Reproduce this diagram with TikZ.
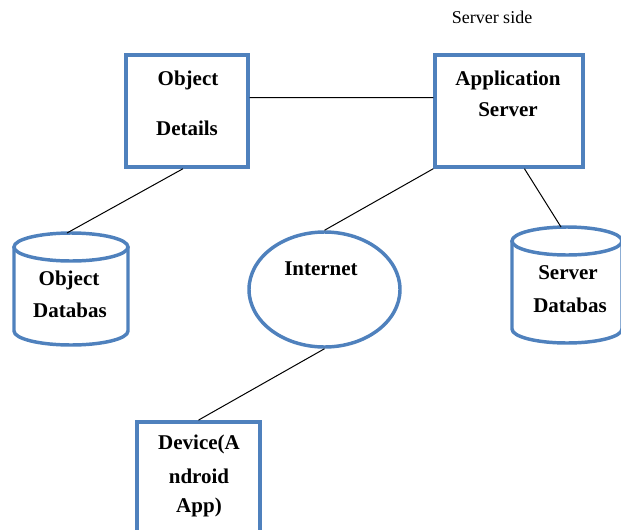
\documentclass[tikz,border=0pt]{standalone}
\usepackage{fontspec}
\setmainfont{Liberation Serif}
\usetikzlibrary{shapes.geometric}
\definecolor{shapeblue}{RGB}{79,129,189}
\tikzset{every picture/.style={line width=0.75pt}}

\begin{document}
\begin{tikzpicture}[x=0.75pt,y=0.75pt,yscale=-1,xscale=1,
	bluebox/.style={draw=shapeblue, line width=2.6pt, inner sep=0pt},
	blueline/.style={draw=shapeblue, line width=2.6pt},
	boldtext/.style={inner sep=0.75pt, font=\fontsize{15.75}{18}\selectfont\bfseries},
	plaintext/.style={inner sep=0.75pt, font=\fontsize{13.5}{16}\selectfont}]
	\useasboundingbox (0,0) rectangle (621,529);
	\clip (0,0) rectangle (621,529);

	%Shape: Rectangle [Object Details]
	\node [bluebox, minimum width=91.5pt, minimum height=84pt] (objdet) at (187,111) {};
	%Shape: Rectangle [Application Server]
	\node [bluebox, minimum width=111pt, minimum height=84pt] (appsrv) at (509,111) {};
	%Shape: Ellipse [Internet]
	\node [bluebox, ellipse, minimum width=113.25pt, minimum height=86.25pt] (inet) at (324.5,289.5) {};
	%Shape: Rectangle [Device]
	\node [bluebox, minimum width=92.25pt, minimum height=85pt] (device) at (198.5,478.5) {};

	%Shape: Can [Object Databas]
	\draw [blueline] (14,247) -- (14,331) arc[start angle=180, end angle=0, x radius=57, y radius=14] -- (128,247) ;
	\draw [blueline] (71,247) ellipse [x radius=57, y radius=14] ;
	\coordinate (objdbtop) at (67,233) ;
	%Shape: Can [Server Databas]
	\draw [blueline] (512,241) -- (512,329) arc[start angle=180, end angle=0, x radius=55, y radius=14] -- (622,241) ;
	\draw [blueline] (567,241) ellipse [x radius=55, y radius=14] ;
	\coordinate (srvdbtop) at (561,227) ;

	%Straight Lines
	\draw (objdet.12) -- (appsrv.170) ;
	\draw (objdet.-94) -- (objdbtop) ;
	\draw (appsrv.south west) -- (inet.north) ;
	\draw (appsrv.-75) -- (srvdbtop) ;
	\draw (inet.south) -- (device.north) ;

	% Text Node
	\node [plaintext] (side) at (492,17) {Server side};
	% Text Node
	\node [boldtext] (t1) at (188,80) {Object};
	\node [boldtext] (t2) at (187,128) {Details};
	% Text Node
	\node [boldtext] (t3) at (508,80) {Application};
	\node [boldtext] (t4) at (508,110) {Server};
	% Text Node
	\node [boldtext] (t5) at (69,280) {Object};
	\node [boldtext] (t6) at (70,310) {Databas};
	% Text Node
	\node [boldtext] (t7) at (568,273) {Server};
	\node [boldtext] (t8) at (570,305) {Databas};
	% Text Node
	\node [boldtext] (t9) at (321,269) {Internet};
	% Text Node
	\node [boldtext] (t10) at (199,444) {Device(A};
	\node [boldtext] (t11) at (199,476) {ndroid};
	\node [boldtext] (t12) at (199,507) {App)};
\end{tikzpicture}
\end{document}
